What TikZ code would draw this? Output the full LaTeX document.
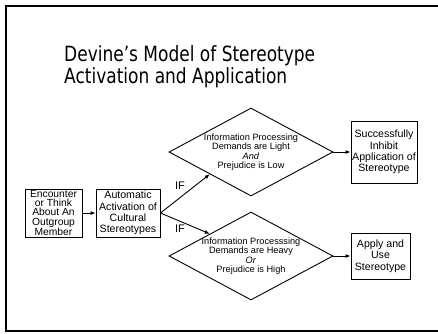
\documentclass[tikz,border=0pt]{standalone}
\usepackage{fontspec}
\setmainfont{Liberation Sans}
\newfontfamily\titlefont[FakeStretch=0.81]{DejaVu Sans}
\usetikzlibrary{shapes.geometric,arrows.meta}
\begin{document}
\begin{tikzpicture}[x=1pt,y=-1pt,
  box/.style={draw, line width=0.9pt, inner sep=0pt, align=center, font=\fontsize{10.6}{11.4}\selectfont},
  dia/.style={draw, diamond, line width=0.9pt, minimum width=164pt, minimum height=88pt, inner sep=0pt},
  diatext/.style={align=center, inner sep=0pt, font=\fontsize{9.2}{9.4}\selectfont},
  arr/.style={-{Latex[length=5pt,width=4pt]}, line width=0.9pt},
  lbl/.style={font=\fontsize{11}{12}\selectfont, inner sep=0pt},
  ttl/.style={font=\titlefont\fontsize{21}{21}\selectfont, inner sep=0pt, anchor=base west}
]
\useasboundingbox (0,0) rectangle (438,333);
\clip (0,0) rectangle (438,333);
\draw[line width=2.4pt] (6,6) rectangle (470,331);

\node[ttl] (t1) at (64,61) {Devine’s Model of Stereotype};
\node[ttl] (t2) at (64,83) {Activation and Application};

\node[box, minimum width=57pt, minimum height=48pt, font=\fontsize{10.3}{9.4}\selectfont] (b1) at (53.5,213)
  {Encounter\\or Think\\About An\\Outgroup\\Member};
\node[box, minimum width=64pt, minimum height=48pt] (b2) at (128,213)
  {Automatic\\Activation of\\Cultural\\Stereotypes};

\node[dia] (d1) at (251,152) {};
\node[diatext] (d1t) at (d1.center) {Information Processing\\Demands are Light\\\textit{And}\\Prejudice is Low};
\node[dia] (d2) at (251,256) {};
\node[diatext] (d2t) at (d2.center) {Information Processsing\\Demands are Heavy\\\textit{Or}\\Prejudice is High};

\node[box, minimum width=66pt, minimum height=62pt] (b3) at (384,152)
  {Successfully\\Inhibit\\Application of\\Stereotype};
\node[box, minimum width=59pt, minimum height=46pt] (b4) at (380.5,256)
  {Apply and\\Use\\Stereotype};

\node[lbl] (if1) at (180,186) {IF};
\node[lbl] (if2) at (180,229) {IF};

\draw[arr] (b1) -- (b2);
\draw[arr] (b2.east) -- (d1.south west);
\draw[arr] (b2.east) -- (d2.north west);
\draw[arr] (d1.east) -- (b3.west);
\draw[arr] (d2.east) -- (b4.west);
\end{tikzpicture}
\end{document}
